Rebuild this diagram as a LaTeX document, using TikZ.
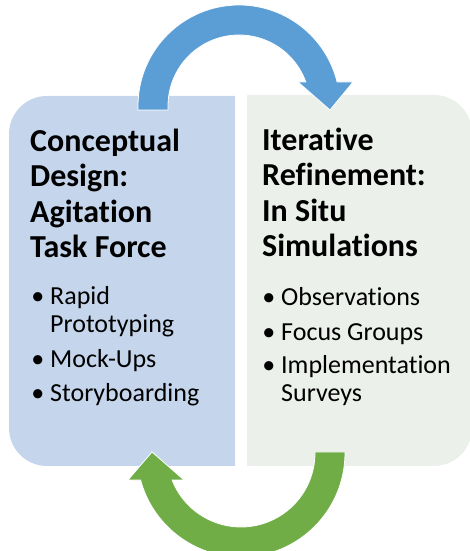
\documentclass[tikz,border=0pt]{standalone}
\usepackage{fontspec}
\setmainfont{Carlito}[Ligatures=NoCommon]
\definecolor{boxblue}{RGB}{197,214,236}
\definecolor{boxgrey}{RGB}{235,240,234}
\definecolor{arrowblue}{RGB}{91,157,213}
\definecolor{arrowgreen}{RGB}{112,173,71}
\newcommand{\itembul}{\llap{\textbullet\hspace{6pt}}}

\begin{document}
\begin{tikzpicture}[x=1pt, y=1pt,
    headtext/.style={anchor=base west, inner sep=0pt, align=left, font=\fontsize{32}{35.5}\selectfont\bfseries},
    listtext/.style={anchor=base west, inner sep=0pt, align=left, font=\fontsize{26}{28}\selectfont},
    bigarrow/.style={draw=white, line width=0.8pt, line join=miter}]
    \useasboundingbox (0,0) rectangle (469,551);
    % left box, rounded on the left
    \fill[boxblue] (235,85) -- (235,455) -- (47,455) arc[start angle=90, end angle=180, radius=38]
        -- (9,123) arc[start angle=180, end angle=270, radius=38] -- cycle;
    % right box, rounded on the right
    \fill[boxgrey] (247,85) -- (247,456) -- (434,456) arc[start angle=90, end angle=0, radius=38]
        -- (472,123) arc[start angle=0, end angle=-90, radius=38] -- cycle;
    % headings (base = last line)
    \node[headtext] (design) at (30,293) {Conceptual\\Design:\\Agitation\\Task Force};
    \node[headtext] (refine) at (262,294) {Iterative\\Refinement:\\In Situ\\Simulations};
    % bullet lists
    \node[listtext] (designlist) at (50,149) {\itembul Rapid\\Prototyping\\[7pt]\itembul Mock-Ups\\[6pt]\itembul Storyboarding};
    \node[listtext] (refinelist) at (281,149) {\itembul Observations\\[7pt]\itembul Focus Groups\\[5pt]\itembul Implementation\\Surveys};
    % blue arrow over the top
    \filldraw[arrowblue, bigarrow] (138,441) -- (138,445) arc[start angle=180, end angle=13.75, radius=101]
        -- (353,469) -- (330,441) -- (298,469) -- ++(7.8,0) arc[start angle=19.76, end angle=180, radius=71]
        -- (168,441) -- cycle;
    % green arrow under the bottom
    \filldraw[arrowgreen, bigarrow] (345,99) -- (345,98) arc[start angle=0, end angle=-164.95, radius=104]
        -- (128,71) -- (152,99) -- (184,71) -- (172.1,71) arc[start angle=-158.6, end angle=0, radius=74]
        -- (315,99) -- cycle;
\end{tikzpicture}
\end{document}
